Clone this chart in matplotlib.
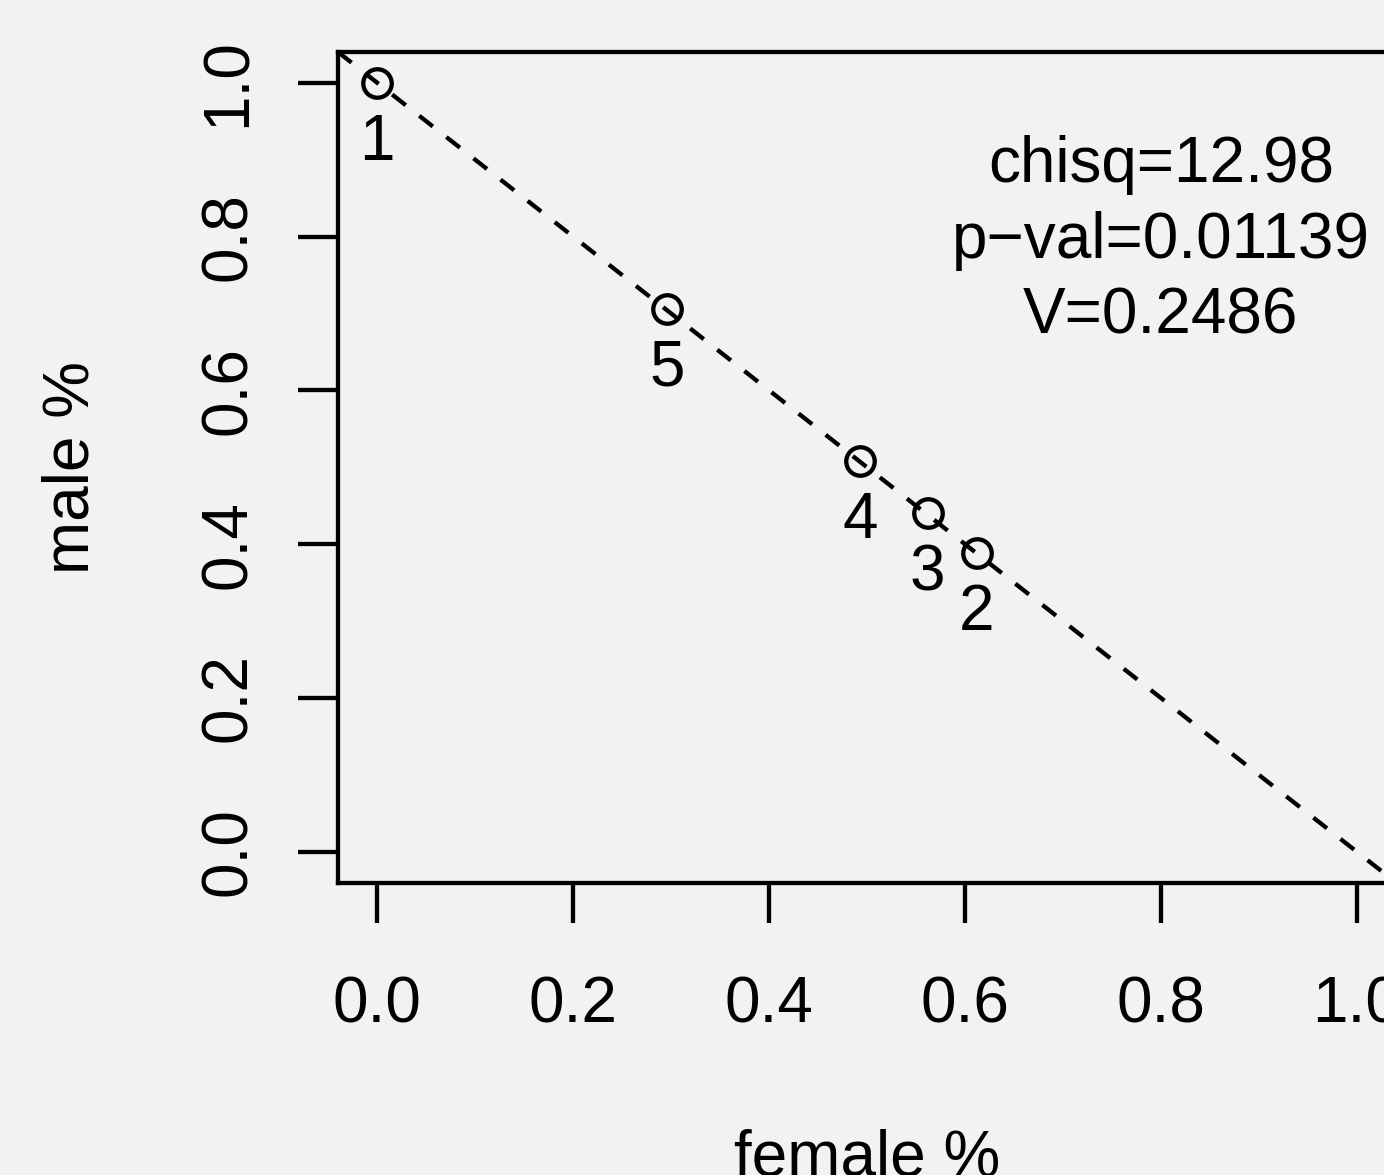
import matplotlib.pyplot as plt

# share of female / male per group
groups = ['1', '2', '3', '4', '5']
female = [0.0, 0.612, 0.562, 0.493, 0.296]
male = [1.0, 0.389, 0.440, 0.508, 0.706]

ticks = [0.0, 0.2, 0.4, 0.6, 0.8, 1.0]
tick_labels = ['0.0', '0.2', '0.4', '0.6', '0.8', '1.0']

# reference line y = a + b*x
line_a = 1.0
line_b = -1.0

stats = ['chisq=12.98', 'p\u2212val=0.01139', 'V=0.2486']
stats_pos = (0.8, 0.8)

bg = '#f2f2f2'
lw = 3.1
fs = 46

plt.rcParams['font.family'] = ['Liberation Sans', 'DejaVu Sans']

fig = plt.figure(figsize=(13.84, 11.75), dpi=100, facecolor=bg)
W, H = 1384, 1175
ax = fig.add_axes([338 / W, (H - 882.5) / H, (1396 - 338) / W, (882.5 - 52) / H])
ax.set_facecolor(bg)

ax.plot(female, male, linestyle='none', marker='o', markersize=20.5,
        markerfacecolor='none', markeredgecolor='black', markeredgewidth=lw,
        clip_on=False)
ax.axline((0, line_a), slope=line_b, color='black', lw=lw,
          linestyle=(0, (4, 4)))

for g, x, y in zip(groups, female, male):
    ax.annotate(g, (x, y), xytext=(0, -77), textcoords='offset pixels',
                ha='center', va='baseline', fontsize=fs)

for i, s in enumerate(stats):
    ax.annotate(s, stats_pos, xytext=(0, 76 * (1 - i) - 21),
                textcoords='offset pixels', ha='center', va='baseline',
                fontsize=fs)

ax.set_xlim(-0.04, 1.04)
ax.set_ylim(-0.04, 1.04)
ax.set_xticks(ticks, tick_labels)
ax.set_yticks(ticks, tick_labels)
for lab in ax.get_yticklabels():
    lab.set_rotation(90)
    lab.set_va('center')
ax.tick_params(length=29, width=lw, labelsize=fs, color='black')
ax.tick_params(axis='x', pad=38)
ax.tick_params(axis='y', pad=28)

for sp in ax.spines.values():
    sp.set_linewidth(lw)

ax.set_xlabel('female %', fontsize=fs, labelpad=67)
ax.set_ylabel('male %', fontsize=fs, labelpad=70)

fig.savefig('out.png', dpi=100, facecolor=bg)
